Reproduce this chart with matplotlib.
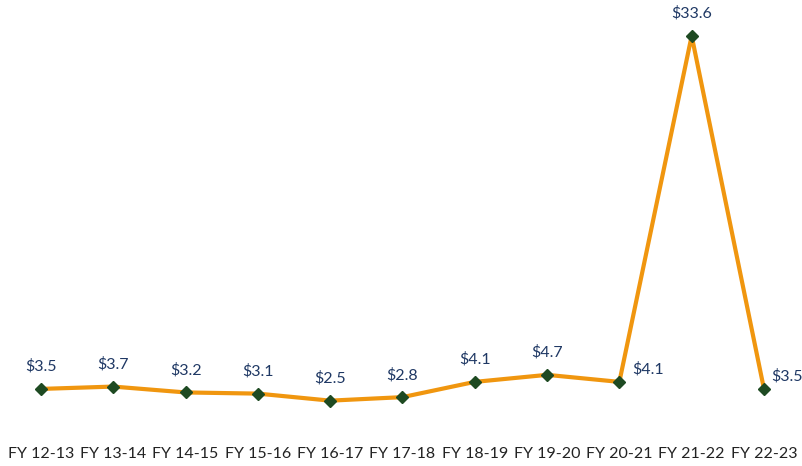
import matplotlib
matplotlib.use("Agg")
import matplotlib.pyplot as plt

years = ["FY 12-13", "FY 13-14", "FY 14-15", "FY 15-16", "FY 16-17", "FY 17-18",
         "FY 18-19", "FY 19-20", "FY 20-21", "FY 21-22", "FY 22-23"]
values = [3.5, 3.7, 3.2, 3.1, 2.5, 2.8, 4.1, 4.7, 4.1, 33.6, 3.5]
labels = ["$3.5", "$3.7", "$3.2", "$3.1", "$2.5", "$2.8", "$4.1", "$4.7", "$4.1", "$33.6", "$3.5"]

plt.rcParams['font.family'] = ['Lato', 'DejaVu Sans']

fig = plt.figure(figsize=(8.03, 4.66), dpi=100)
ax = fig.add_axes([0, 0.0773, 1, 0.9062])

x = list(range(len(years)))
ax.plot(x, values, color="#F0960F", linewidth=3, zorder=2,
        solid_capstyle="round", solid_joinstyle="miter")
ax.plot(x, values, linestyle="none", marker="D", markersize=6.5,
        color="#1E4A22", zorder=3)

# data labels: above the points, except the two next to the spike
for i, (v, lab) in enumerate(zip(values, labels)):
    if i == 8:
        ax.annotate(lab, (i, v), xytext=(9, 9), textcoords="offset points",
                    ha="left", va="center", fontsize=11.5, color="#1F3864")
    elif i == 10:
        ax.annotate(lab, (i, v), xytext=(5, 9), textcoords="offset points",
                    ha="left", va="center", fontsize=11.5, color="#1F3864")
    else:
        ax.annotate(lab, (i, v), xytext=(0, 16), textcoords="offset points",
                    ha="center", va="center", fontsize=11.5, color="#1F3864")

ax.set_xlim(-0.567, 10.54)
ax.set_ylim(0, 36)
ax.set_xticks(x)
ax.set_xticklabels(years, fontsize=11.5, color="#222222")
ax.tick_params(axis="x", length=0, pad=12)
ax.set_yticks([])
for s in ax.spines.values():
    s.set_visible(False)

fig.savefig("out.png", dpi=100)
